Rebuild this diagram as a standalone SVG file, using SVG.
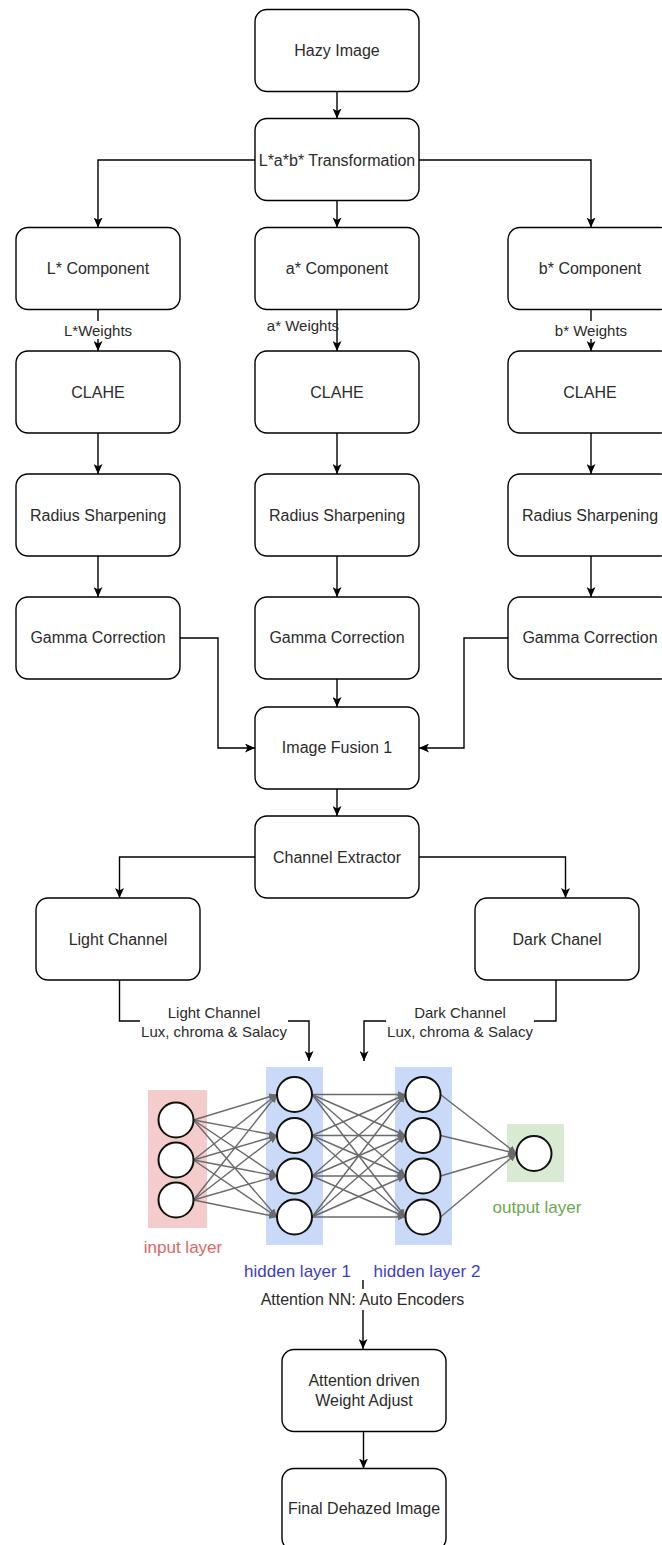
<svg xmlns="http://www.w3.org/2000/svg" width="662" height="1545" viewBox="0 0 662 1545">
<style>
.box{fill:#fff;stroke:#000;stroke-width:1.4}
.t{font-family:"Liberation Sans",Arial,sans-serif;font-size:16px;fill:#2b2b2b;text-anchor:middle;dominant-baseline:central}
.lbl{font-family:"Liberation Sans",Arial,sans-serif;font-size:15px;fill:#2b2b2b;text-anchor:middle;dominant-baseline:central}
.e{fill:none;stroke:#000;stroke-width:1.4;marker-end:url(#ah)}
.ln{fill:none;stroke:#000;stroke-width:1.4}
.bg{fill:#fff}
.nn{stroke:#6a6a6a;stroke-width:1.4;marker-end:url(#gh)}
.nd{fill:#fff;stroke:#111;stroke-width:2}
.nt{font-family:"Liberation Sans",Arial,sans-serif;font-size:17px;text-anchor:middle}
</style>
<defs>
<marker id="ah" viewBox="0 0 10 9" markerWidth="10" markerHeight="9" refX="10" refY="4.5" orient="auto" markerUnits="userSpaceOnUse">
<path d="M0,0 L10,4.5 L0,9 L2.5,4.5 z" fill="#000"/>
</marker>
<marker id="gh" viewBox="0 0 8 7" markerWidth="8" markerHeight="7" refX="8" refY="3.5" orient="auto" markerUnits="userSpaceOnUse">
<path d="M0,0 L8,3.5 L0,7 z" fill="#6a6a6a"/>
</marker>
</defs>
<rect width="662" height="1545" fill="#fff"/>

<g id="connectors">
<path class="e" d="M337,91.5 V118.5"/>
<path class="e" d="M255,160 H98 V227.5"/>
<path class="e" d="M419,160 H591 V227.5"/>
<path class="e" d="M337,200.5 V227.5"/>
<path class="e" d="M98,309.5 V351"/>
<path class="e" d="M337,309.5 V351"/>
<path class="e" d="M591,309.5 V351"/>
<path class="e" d="M98,433 V474"/>
<path class="e" d="M337,433 V474"/>
<path class="e" d="M591,433 V474"/>
<path class="e" d="M98,556 V597"/>
<path class="e" d="M337,556 V597"/>
<path class="e" d="M591,556 V597"/>
<path class="e" d="M180,638 H218 V748 H255"/>
<path class="e" d="M337,679 V707"/>
<path class="e" d="M508,638 H464 V748 H419"/>
<path class="e" d="M337,789 V816"/>
<path class="e" d="M255,857 H119.5 V898"/>
<path class="e" d="M419,857 H565.5 V898"/>
<path class="e" d="M119.5,980 V1021 H309 V1061"/>
<path class="e" d="M556,980 V1021 H364 V1061"/>
<path class="e" d="M363,1280 V1349"/>
<path class="e" d="M363.5,1431.5 V1468.5"/>
<rect class="bg" x="63" y="321" width="70" height="18"/>
<text class="lbl" x="98" y="330">L*Weights</text>
<text class="lbl" x="303" y="325">a* Weights</text>
<rect class="bg" x="554" y="321" width="74" height="18"/>
<text class="lbl" x="591" y="330">b* Weights</text>
<rect class="bg" x="140" y="1002" width="148" height="38"/>
<text class="lbl" x="214" y="1012">Light Channel</text>
<text class="lbl" x="214" y="1031">Lux, chroma &amp; Salacy</text>
<rect class="bg" x="386" y="1002" width="148" height="38"/>
<text class="lbl" x="460" y="1012">Dark Channel</text>
<text class="lbl" x="460" y="1031">Lux, chroma &amp; Salacy</text>
<rect class="bg" x="256" y="1289" width="213" height="21"/>
<text class="t" x="362.5" y="1299">Attention NN: Auto Encoders</text>
</g>

<g id="hazy"><rect class="box" x="255" y="9.5" width="164" height="82" rx="12"/><text class="t" x="337" y="50.5">Hazy Image</text></g>
<g id="lab"><rect class="box" x="255" y="118.5" width="164" height="82" rx="12"/><text class="t" x="337" y="160">L*a*b* Transformation</text></g>

<g id="lcomp"><rect class="box" x="16" y="227.5" width="164" height="82" rx="12"/><text class="t" x="98" y="268.5">L* Component</text></g>
<g id="acomp"><rect class="box" x="255" y="227.5" width="164" height="82" rx="12"/><text class="t" x="337" y="268.5">a* Component</text></g>
<g id="bcomp"><rect class="box" x="508" y="227.5" width="164" height="82" rx="12"/><text class="t" x="590" y="268.5">b* Component</text></g>

<g id="lclahe"><rect class="box" x="16" y="351" width="164" height="82" rx="12"/><text class="t" x="98" y="392">CLAHE</text></g>
<g id="aclahe"><rect class="box" x="255" y="351" width="164" height="82" rx="12"/><text class="t" x="337" y="392">CLAHE</text></g>
<g id="bclahe"><rect class="box" x="508" y="351" width="164" height="82" rx="12"/><text class="t" x="590" y="392">CLAHE</text></g>

<g id="lradius"><rect class="box" x="16" y="474" width="164" height="82" rx="12"/><text class="t" x="98" y="515">Radius Sharpening</text></g>
<g id="aradius"><rect class="box" x="255" y="474" width="164" height="82" rx="12"/><text class="t" x="337" y="515">Radius Sharpening</text></g>
<g id="bradius"><rect class="box" x="508" y="474" width="164" height="82" rx="12"/><text class="t" x="590" y="515">Radius Sharpening</text></g>

<g id="lgamma"><rect class="box" x="16" y="597" width="164" height="82" rx="12"/><text class="t" x="98" y="637">Gamma Correction</text></g>
<g id="agamma"><rect class="box" x="255" y="597" width="164" height="82" rx="12"/><text class="t" x="337" y="637">Gamma Correction</text></g>
<g id="bgamma"><rect class="box" x="508" y="597" width="164" height="82" rx="12"/><text class="t" x="590" y="637">Gamma Correction</text></g>

<g id="fusion"><rect class="box" x="255" y="707" width="164" height="82" rx="12"/><text class="t" x="337" y="747">Image Fusion 1</text></g>
<g id="extractor"><rect class="box" x="255" y="816" width="164" height="82" rx="12"/><text class="t" x="337" y="857">Channel Extractor</text></g>
<g id="light"><rect class="box" x="36" y="898" width="164" height="82" rx="12"/><text class="t" x="118" y="939">Light Channel</text></g>
<g id="dark"><rect class="box" x="475" y="898" width="164" height="82" rx="12"/><text class="t" x="557" y="939">Dark Chanel</text></g>

<g id="nn">
<rect x="148" y="1090" width="59" height="138" fill="#f4cccc"/>
<rect x="266" y="1067" width="57" height="178" fill="#c9daf8"/>
<rect x="395" y="1067" width="57" height="178" fill="#c9daf8"/>
<rect x="507" y="1124" width="57" height="58" fill="#d9ead3"/>
<g id="nn-edges">
<line class="nn" x1="193.5" y1="1120" x2="277" y2="1094.5"/>
<line class="nn" x1="193.5" y1="1120" x2="277" y2="1135.5"/>
<line class="nn" x1="193.5" y1="1120" x2="277" y2="1176"/>
<line class="nn" x1="193.5" y1="1120" x2="277" y2="1217"/>
<line class="nn" x1="193.5" y1="1160" x2="277" y2="1094.5"/>
<line class="nn" x1="193.5" y1="1160" x2="277" y2="1135.5"/>
<line class="nn" x1="193.5" y1="1160" x2="277" y2="1176"/>
<line class="nn" x1="193.5" y1="1160" x2="277" y2="1217"/>
<line class="nn" x1="193.5" y1="1200" x2="277" y2="1094.5"/>
<line class="nn" x1="193.5" y1="1200" x2="277" y2="1135.5"/>
<line class="nn" x1="193.5" y1="1200" x2="277" y2="1176"/>
<line class="nn" x1="193.5" y1="1200" x2="277" y2="1217"/>
<line class="nn" x1="312" y1="1094.5" x2="405.5" y2="1094.5"/>
<line class="nn" x1="312" y1="1094.5" x2="405.5" y2="1135.5"/>
<line class="nn" x1="312" y1="1094.5" x2="405.5" y2="1176"/>
<line class="nn" x1="312" y1="1094.5" x2="405.5" y2="1217"/>
<line class="nn" x1="312" y1="1135.5" x2="405.5" y2="1094.5"/>
<line class="nn" x1="312" y1="1135.5" x2="405.5" y2="1135.5"/>
<line class="nn" x1="312" y1="1135.5" x2="405.5" y2="1176"/>
<line class="nn" x1="312" y1="1135.5" x2="405.5" y2="1217"/>
<line class="nn" x1="312" y1="1176" x2="405.5" y2="1094.5"/>
<line class="nn" x1="312" y1="1176" x2="405.5" y2="1135.5"/>
<line class="nn" x1="312" y1="1176" x2="405.5" y2="1176"/>
<line class="nn" x1="312" y1="1176" x2="405.5" y2="1217"/>
<line class="nn" x1="312" y1="1217" x2="405.5" y2="1094.5"/>
<line class="nn" x1="312" y1="1217" x2="405.5" y2="1135.5"/>
<line class="nn" x1="312" y1="1217" x2="405.5" y2="1176"/>
<line class="nn" x1="312" y1="1217" x2="405.5" y2="1217"/>
<line class="nn" x1="440.5" y1="1094.5" x2="516.5" y2="1153.5"/>
<line class="nn" x1="440.5" y1="1135.5" x2="516.5" y2="1153.5"/>
<line class="nn" x1="440.5" y1="1176" x2="516.5" y2="1153.5"/>
<line class="nn" x1="440.5" y1="1217" x2="516.5" y2="1153.5"/>
</g>
<circle class="nd" cx="176" cy="1120" r="17.5"/>
<circle class="nd" cx="176" cy="1160" r="17.5"/>
<circle class="nd" cx="176" cy="1200" r="17.5"/>
<circle class="nd" cx="294.5" cy="1094.5" r="17.5"/>
<circle class="nd" cx="294.5" cy="1135.5" r="17.5"/>
<circle class="nd" cx="294.5" cy="1176" r="17.5"/>
<circle class="nd" cx="294.5" cy="1217" r="17.5"/>
<circle class="nd" cx="423" cy="1094.5" r="17.5"/>
<circle class="nd" cx="423" cy="1135.5" r="17.5"/>
<circle class="nd" cx="423" cy="1176" r="17.5"/>
<circle class="nd" cx="423" cy="1217" r="17.5"/>
<circle class="nd" cx="534" cy="1153.5" r="17.5"/>
<text class="nt" x="183" y="1253" fill="#e06666">input layer</text>
<text class="nt" x="297.5" y="1277" fill="#3d3dc4">hidden layer 1</text>
<text class="nt" x="427" y="1277" fill="#3d3dc4">hidden layer 2</text>
<text class="nt" x="537" y="1213" fill="#6aa84f">output layer</text>
</g>

<g id="attention"><rect class="box" x="282" y="1349.5" width="164" height="82" rx="12"/><text class="t" x="364" y="1380">Attention driven</text><text class="t" x="364" y="1400.5">Weight Adjust</text></g>
<g id="final"><rect class="box" x="282" y="1468.5" width="164" height="82" rx="12"/><text class="t" x="364" y="1508.5">Final Dehazed Image</text></g>
</svg>
